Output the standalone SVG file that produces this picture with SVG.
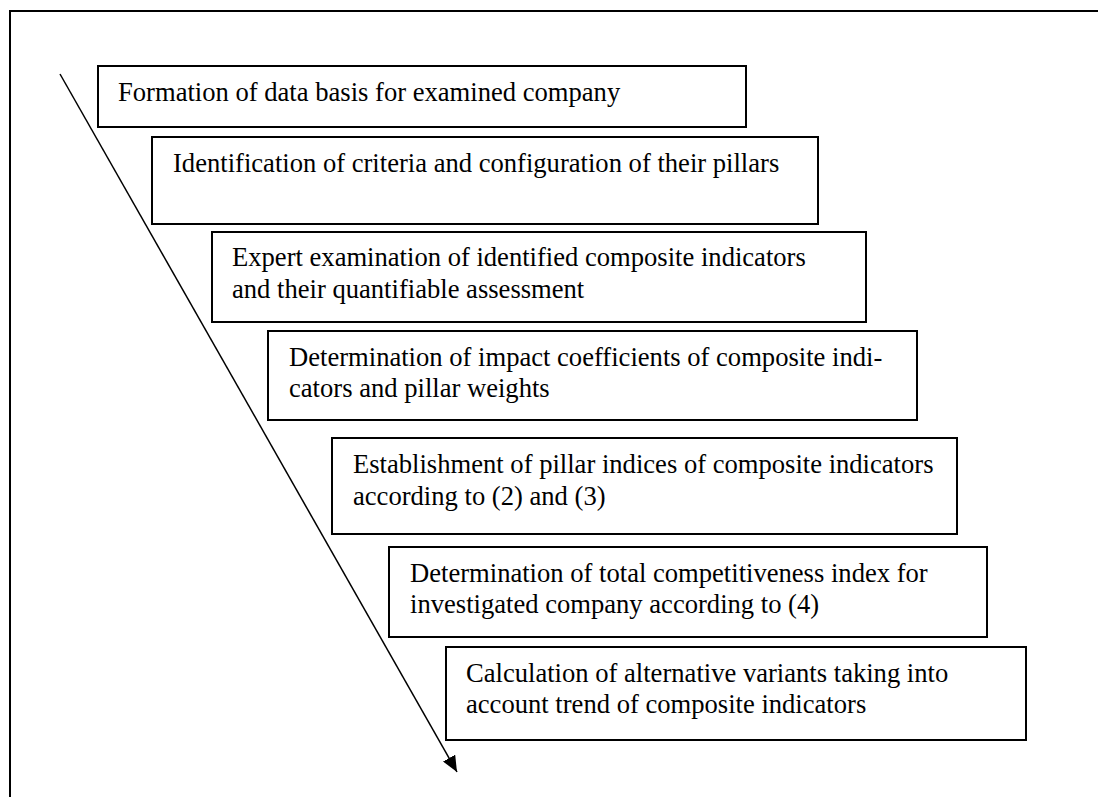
<svg xmlns="http://www.w3.org/2000/svg" width="1098" height="797" viewBox="0 0 1098 797">
<style>
.box{fill:#fff;stroke:#000;stroke-width:2}
.t{font-family:"Liberation Serif","Times New Roman",serif;font-size:26.6px;fill:#000}
</style>
<defs>
<marker id="ah" markerWidth="16" markerHeight="14" refX="16" refY="7" orient="auto" markerUnits="userSpaceOnUse">
<path d="M0,0 L16,7 L0,14 Z" fill="#000"/>
</marker>
</defs>
<rect width="1098" height="797" fill="#fff"/>
<path d="M10,797 L10,11 L1098,11" fill="none" stroke="#000" stroke-width="2"/>
<g id="n1"><rect class="box" x="98" y="66" width="648" height="61"/><text class="t" x="118" y="101">Formation of data basis for examined company</text></g>
<g id="n2"><rect class="box" x="152" y="137" width="666" height="87"/><text class="t" x="173" y="172">Identification of criteria and configuration of their pillars</text></g>
<g id="n3"><rect class="box" x="212" y="232" width="654" height="90"/><text class="t" x="232" y="266">Expert examination of identified composite indicators</text><text class="t" x="232" y="298">and their quantifiable assessment</text></g>
<g id="n4"><rect class="box" x="268" y="331" width="649" height="89"/><text class="t" x="289" y="366">Determination of impact coefficients of composite indi-</text><text class="t" x="289" y="397">cators and pillar weights</text></g>
<g id="n5"><rect class="box" x="332" y="438" width="625" height="96"/><text class="t" x="353" y="473">Establishment of pillar indices of composite indicators</text><text class="t" x="353" y="505">according to (2) and (3)</text></g>
<g id="n6"><rect class="box" x="389" y="547" width="598" height="90"/><text class="t" x="410" y="582">Determination of total competitiveness index for</text><text class="t" x="410" y="613">investigated company according to (4)</text></g>
<g id="n7"><rect class="box" x="446" y="647" width="580" height="93"/><text class="t" x="466" y="682">Calculation of alternative variants taking into</text><text class="t" x="466" y="713">account trend of composite indicators</text></g>
<g id="connectors"><line x1="60" y1="74" x2="457" y2="772" stroke="#000" stroke-width="1.5" marker-end="url(#ah)"/></g>
</svg>
